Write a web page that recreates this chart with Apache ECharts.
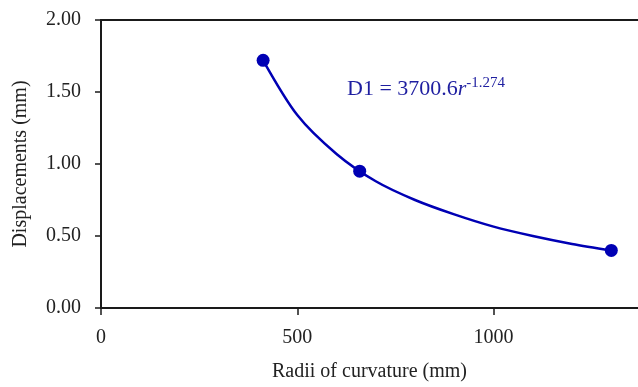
<!DOCTYPE html>
<html>
<head>
<meta charset="utf-8">
<script src="https://cdn.jsdelivr.net/npm/echarts@6/dist/echarts.min.js"></script>
<style>
  html, body { margin: 0; padding: 0; background: #fff; }
  #chart { width: 638px; height: 387px; }
</style>
</head>
<body>
<div id="chart"></div>
<script>
  // measured points (radius mm, displacement mm)
  var radii = [413, 659, 1300];
  var displacements = [1.72, 0.95, 0.40];

  // trend line
  var curveRadii = [413, 500, 600, 700, 800, 900, 1000, 1100, 1200, 1300];
  var curveDisp = [1.72, 1.34, 1.07, 0.88, 0.75, 0.65, 0.565, 0.50, 0.445, 0.40];

  var yTicks = [0, 0.5, 1, 1.5, 2];

  var font = '"Liberation Serif", "DejaVu Serif", serif';
  var blue = '#0000b4';

  var chart = echarts.init(document.getElementById('chart'));

  var option = {
    animation: false,
    grid: {left: 101, top: 20, bottom: 78, right: 0, containLabel: false},
    xAxis: [{
      type: 'value', min: 0, max: 1368, interval: 500,
      name: 'Radii of curvature (mm)',
      nameLocation: 'middle', nameGap: 54,
      nameTextStyle: {fontFamily: font, fontSize: 20, color: '#222'},
      axisLine: {lineStyle: {color: '#1a1a1a', width: 2}},
      axisTick: {show: true, inside: false, length: 7, lineStyle: {color: '#1a1a1a', width: 1.5}},
      axisLabel: {
        fontFamily: font, fontSize: 20, color: '#222', margin: 20, showMaxLabel: false,
        formatter: function (v) { return String(v); }
      },
      splitLine: {show: false}
    }, {
      // top frame line
      type: 'value', position: 'top', min: 0, max: 1368,
      axisLine: {show: true, lineStyle: {color: '#1a1a1a', width: 2}},
      axisTick: {show: false}, axisLabel: {show: false}, splitLine: {show: false}
    }],
    yAxis: {
      type: 'value', min: 0, max: 2, interval: 0.5,
      name: 'Displacements (mm)',
      nameLocation: 'middle', nameGap: 70,
      nameTextStyle: {fontFamily: font, fontSize: 20, color: '#222'},
      axisLine: {show: true, lineStyle: {color: '#1a1a1a', width: 2}},
      axisTick: {show: true, inside: false, length: 6, lineStyle: {color: '#1a1a1a', width: 1.5}},
      axisLabel: {
        fontFamily: font, fontSize: 20, color: '#222', margin: 20,
        formatter: function (v) { return yTicks.indexOf(v) >= 0 ? v.toFixed(2) : ''; }
      },
      splitLine: {show: false}
    },
    graphic: [{
      type: 'text', left: 347, top: 76,
      style: {
        text: '{a|D1 = 3700.6}{i|r}{s|-1.274}',
        rich: {
          a: {fontFamily: font, fontSize: 22, fill: '#1e1ea0'},
          i: {fontFamily: font, fontSize: 22, fontStyle: 'italic', fill: '#1e1ea0'},
          s: {fontFamily: font, fontSize: 15, fill: '#1e1ea0', padding: [0, 0, 12, 0]}
        }
      }
    }],
    series: [
      {
        type: 'line',
        data: curveRadii.map(function (r, i) { return [r, curveDisp[i]]; }),
        smooth: 0.3, showSymbol: false,
        lineStyle: {color: blue, width: 2.5}
      },
      {
        type: 'scatter',
        data: radii.map(function (r, i) { return [r, displacements[i]]; }),
        symbolSize: 13,
        itemStyle: {color: blue, opacity: 1}
      }
    ]
  };

  chart.setOption(option);
</script>
</body>
</html>
